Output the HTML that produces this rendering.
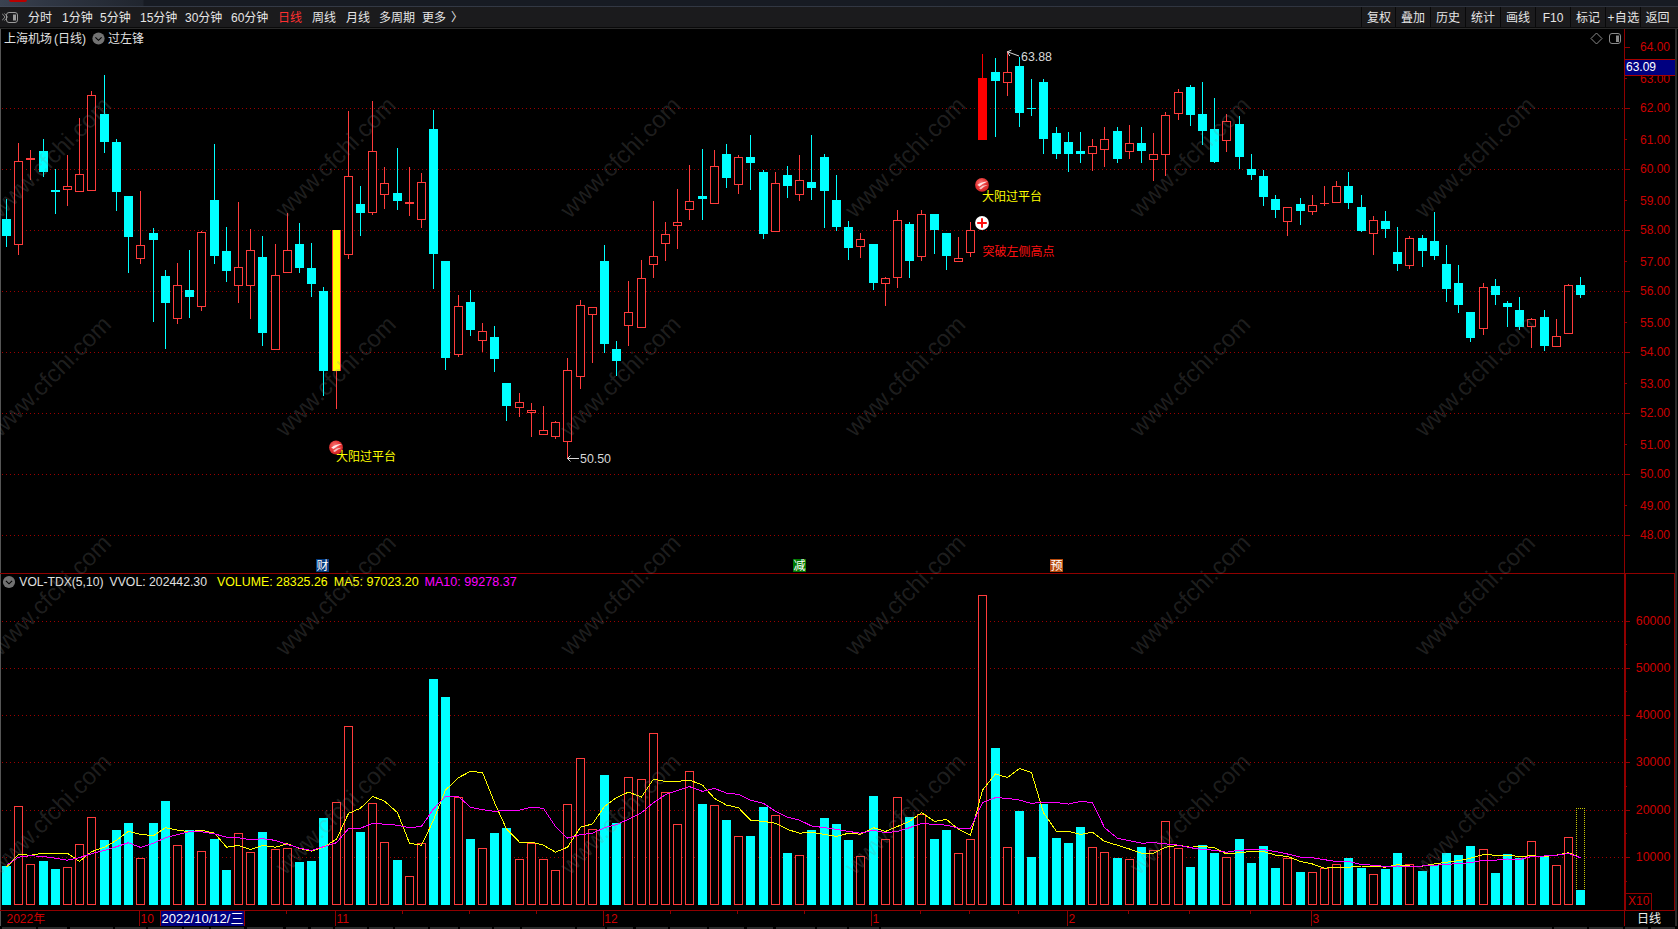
<!DOCTYPE html>
<html lang="zh"><head><meta charset="utf-8"><title>上海机场(日线)</title>
<style>
html,body{margin:0;padding:0;background:#000;}
body{width:1678px;height:929px;overflow:hidden;position:relative;font-family:"Liberation Sans","Noto Sans CJK SC",sans-serif;font-size:12px;color:#e0e0e0;}
.abs{position:absolute;white-space:nowrap;}
#topstrip{left:0;top:0;width:1678px;height:7px;background:linear-gradient(90deg,#3b4351 0,#303744 45px,#20252e 143px,#171b23 144px,#171b23 100%);}
#redtab{left:9px;top:0;width:18px;height:2px;background:#b80000;border-radius:0 0 2px 2px;}
#toolbar{left:0;top:7px;width:1678px;height:20px;background:#1b1b1d;}
#tbl1{left:0;top:27px;width:1678px;height:1px;background:#0a0a0a;}
#tbl2{left:0;top:28px;width:1678px;height:1px;background:#2a2a2a;}
#tsl{left:0;top:6px;width:1678px;height:1px;background:linear-gradient(90deg,#414856 0,#343a46 144px,#2e333e 100%);}
.tb{top:8px;height:20px;line-height:21px;color:#e6e6e6;font-size:12px;}
.btn{top:8px;height:20px;line-height:21px;width:34px;text-align:center;color:#e6e6e6;}
.sep{top:7px;width:1px;height:20px;background:#09090a;}
svg{position:absolute;left:0;top:0;}
.lbl{font-size:12px;line-height:14px;}
</style></head><body>
<div id="topstrip" class="abs"></div><div id="redtab" class="abs"></div>
<div id="tsl" class="abs"></div><div id="toolbar" class="abs"></div><div id="tbl1" class="abs"></div><div id="tbl2" class="abs"></div><div class="abs sep" style="left:1361px"></div><div class="abs sep" style="left:1395px"></div><div class="abs sep" style="left:1430px"></div><div class="abs sep" style="left:1465px"></div><div class="abs sep" style="left:1500px"></div><div class="abs sep" style="left:1535px"></div><div class="abs sep" style="left:1570px"></div><div class="abs sep" style="left:1605px"></div><div class="abs sep" style="left:1640px"></div>
<svg class="abs" style="left:2px;top:10px" width="18" height="14" viewBox="0 0 18 14"><path d="M0 3.5 L3 7 L0 10.5 M2.5 3.5 L5.5 7 L2.5 10.5" fill="none" stroke="#8a8a8a" stroke-width="1"/><rect x="4.5" y="2.5" width="11" height="10" rx="2.5" fill="none" stroke="#9a9a9a"/><rect x="11" y="4.5" width="3" height="6" fill="#9a9a9a"/></svg>
<div class="abs tb" style="left:28px">分时</div>
<div class="abs tb" style="left:62px">1分钟</div>
<div class="abs tb" style="left:100px">5分钟</div>
<div class="abs tb" style="left:140px">15分钟</div>
<div class="abs tb" style="left:185px">30分钟</div>
<div class="abs tb" style="left:231px">60分钟</div>
<div class="abs tb" style="left:278px;color:#ff3030">日线</div>
<div class="abs tb" style="left:312px">周线</div>
<div class="abs tb" style="left:346px">月线</div>
<div class="abs tb" style="left:379px">多周期</div>
<div class="abs tb" style="left:422px">更多</div>
<div class="abs tb" style="left:451px">〉</div>
<div class="abs btn" style="left:1362px">复权</div>
<div class="abs btn" style="left:1396px">叠加</div>
<div class="abs btn" style="left:1431px">历史</div>
<div class="abs btn" style="left:1466px">统计</div>
<div class="abs btn" style="left:1501px">画线</div>
<div class="abs btn" style="left:1536px">F10</div>
<div class="abs btn" style="left:1571px">标记</div>
<div class="abs btn" style="left:1606px;width:35px;letter-spacing:0.4px">+自选</div>
<div class="abs btn" style="left:1641px;width:33px">返回</div>
<svg width="1678" height="929" viewBox="0 0 1678 929">
<line x1="2" y1="535.5" x2="1623" y2="535.5" stroke="#9c0000" stroke-width="1" stroke-dasharray="1 3"/>
<line x1="2" y1="474.5" x2="1623" y2="474.5" stroke="#9c0000" stroke-width="1" stroke-dasharray="1 3"/>
<line x1="2" y1="413.5" x2="1623" y2="413.5" stroke="#9c0000" stroke-width="1" stroke-dasharray="1 3"/>
<line x1="2" y1="352.5" x2="1623" y2="352.5" stroke="#9c0000" stroke-width="1" stroke-dasharray="1 3"/>
<line x1="2" y1="291.5" x2="1623" y2="291.5" stroke="#9c0000" stroke-width="1" stroke-dasharray="1 3"/>
<line x1="2" y1="230.5" x2="1623" y2="230.5" stroke="#9c0000" stroke-width="1" stroke-dasharray="1 3"/>
<line x1="2" y1="169.5" x2="1623" y2="169.5" stroke="#9c0000" stroke-width="1" stroke-dasharray="1 3"/>
<line x1="2" y1="108.5" x2="1623" y2="108.5" stroke="#9c0000" stroke-width="1" stroke-dasharray="1 3"/>
<line x1="2" y1="857.5" x2="1623" y2="857.5" stroke="#9c0000" stroke-width="1" stroke-dasharray="1 3"/>
<line x1="2" y1="810.5" x2="1623" y2="810.5" stroke="#9c0000" stroke-width="1" stroke-dasharray="1 3"/>
<line x1="2" y1="762.5" x2="1623" y2="762.5" stroke="#9c0000" stroke-width="1" stroke-dasharray="1 3"/>
<line x1="2" y1="715.5" x2="1623" y2="715.5" stroke="#9c0000" stroke-width="1" stroke-dasharray="1 3"/>
<line x1="2" y1="668.5" x2="1623" y2="668.5" stroke="#9c0000" stroke-width="1" stroke-dasharray="1 3"/>
<line x1="2" y1="621.5" x2="1623" y2="621.5" stroke="#9c0000" stroke-width="1" stroke-dasharray="1 3"/>
<rect x="0" y="29" width="1" height="897" fill="#555555"/>
<rect x="0" y="573" width="1675" height="1" fill="#900000"/>
<rect x="0" y="910" width="1675" height="1" fill="#900000"/>
<rect x="1624" y="29" width="1" height="897" fill="#900000"/>
<rect x="1625" y="573" width="1" height="338" fill="#900000"/>
<rect x="1674" y="573" width="1" height="338" fill="#900000"/>
<rect x="1675" y="28" width="2" height="898" fill="#2a2a2a"/>
<rect x="1625" y="535" width="5" height="1" fill="#900000"/>
<rect x="1625" y="505" width="2" height="1" fill="#900000"/>
<rect x="1625" y="474" width="5" height="1" fill="#900000"/>
<rect x="1625" y="444" width="2" height="1" fill="#900000"/>
<rect x="1625" y="413" width="5" height="1" fill="#900000"/>
<rect x="1625" y="383" width="2" height="1" fill="#900000"/>
<rect x="1625" y="352" width="5" height="1" fill="#900000"/>
<rect x="1625" y="322" width="2" height="1" fill="#900000"/>
<rect x="1625" y="291" width="5" height="1" fill="#900000"/>
<rect x="1625" y="261" width="2" height="1" fill="#900000"/>
<rect x="1625" y="230" width="5" height="1" fill="#900000"/>
<rect x="1625" y="200" width="2" height="1" fill="#900000"/>
<rect x="1625" y="169" width="5" height="1" fill="#900000"/>
<rect x="1625" y="139" width="2" height="1" fill="#900000"/>
<rect x="1625" y="108" width="5" height="1" fill="#900000"/>
<rect x="1625" y="78" width="2" height="1" fill="#900000"/>
<rect x="1625" y="47" width="5" height="1" fill="#900000"/>
<g font-family="Liberation Sans, Arial, sans-serif" font-size="12" fill="#cc0000"><text x="1670" y="539.3" text-anchor="end">48.00</text><text x="1670" y="510.0" text-anchor="end">49.00</text><text x="1670" y="478.3" text-anchor="end">50.00</text><text x="1670" y="449.0" text-anchor="end">51.00</text><text x="1670" y="417.3" text-anchor="end">52.00</text><text x="1670" y="388.0" text-anchor="end">53.00</text><text x="1670" y="356.3" text-anchor="end">54.00</text><text x="1670" y="327.0" text-anchor="end">55.00</text><text x="1670" y="295.3" text-anchor="end">56.00</text><text x="1670" y="266.0" text-anchor="end">57.00</text><text x="1670" y="234.3" text-anchor="end">58.00</text><text x="1670" y="205.0" text-anchor="end">59.00</text><text x="1670" y="173.3" text-anchor="end">60.00</text><text x="1670" y="144.0" text-anchor="end">61.00</text><text x="1670" y="112.3" text-anchor="end">62.00</text><text x="1670" y="83.0" text-anchor="end">63.00</text><text x="1670" y="51.3" text-anchor="end">64.00</text></g>
<rect x="1625" y="59" width="50" height="17" fill="#000080"/><rect x="1625" y="59" width="50" height="1" fill="#a80000"/><rect x="1625" y="75" width="50" height="1" fill="#a80000"/>
<text x="1626" y="71.3" font-family="Liberation Sans, Arial, sans-serif" font-size="12" fill="#ffffff">63.09</text>
<rect x="1625" y="857" width="5" height="1" fill="#900000"/>
<rect x="1625" y="881" width="2" height="1" fill="#900000"/>
<rect x="1625" y="810" width="5" height="1" fill="#900000"/>
<rect x="1625" y="833" width="2" height="1" fill="#900000"/>
<rect x="1625" y="762" width="5" height="1" fill="#900000"/>
<rect x="1625" y="786" width="2" height="1" fill="#900000"/>
<rect x="1625" y="715" width="5" height="1" fill="#900000"/>
<rect x="1625" y="739" width="2" height="1" fill="#900000"/>
<rect x="1625" y="668" width="5" height="1" fill="#900000"/>
<rect x="1625" y="691" width="2" height="1" fill="#900000"/>
<rect x="1625" y="621" width="5" height="1" fill="#900000"/>
<rect x="1625" y="644" width="2" height="1" fill="#900000"/>
<g font-family="Liberation Sans, Arial, sans-serif" font-size="12.4" fill="#cc0000"><text x="1670.3" y="861.3" text-anchor="end">10000</text><text x="1670.3" y="814.3" text-anchor="end">20000</text><text x="1670.3" y="766.3" text-anchor="end">30000</text><text x="1670.3" y="719.3" text-anchor="end">40000</text><text x="1670.3" y="672.3" text-anchor="end">50000</text><text x="1670.3" y="625.3" text-anchor="end">60000</text></g>
<rect x="1625.5" y="893.5" width="26" height="17" fill="none" stroke="#900000"/>
<text x="1628" y="905" font-family="Liberation Sans, Arial, sans-serif" font-size="12" fill="#cc0000">X10</text>
<g shape-rendering="crispEdges"><rect x="6" y="199" width="1" height="48" fill="#00ffff"/><rect x="2" y="219" width="9" height="17" fill="#00ffff"/><rect x="18" y="143" width="1" height="18" fill="#ff3c3c"/><rect x="18" y="245" width="1" height="10" fill="#ff3c3c"/><rect x="14.5" y="161.5" width="8" height="83" fill="#000" stroke="#ff3c3c"/><rect x="30" y="150" width="1" height="8" fill="#ff3c3c"/><rect x="30" y="160" width="1" height="20" fill="#ff3c3c"/><rect x="26.5" y="158.5" width="8" height="1" fill="#000" stroke="#ff3c3c"/><rect x="43" y="139" width="1" height="38" fill="#00ffff"/><rect x="39" y="151" width="9" height="21" fill="#00ffff"/><rect x="55" y="169" width="1" height="45" fill="#00ffff"/><rect x="51" y="190" width="9" height="2" fill="#00ffff"/><rect x="67" y="155" width="1" height="31" fill="#ff3c3c"/><rect x="67" y="190" width="1" height="16" fill="#ff3c3c"/><rect x="63.5" y="186.5" width="8" height="3" fill="#000" stroke="#ff3c3c"/><rect x="79" y="118" width="1" height="56" fill="#ff3c3c"/><rect x="75.5" y="174.5" width="8" height="17" fill="#000" stroke="#ff3c3c"/><rect x="91" y="91" width="1" height="4" fill="#ff3c3c"/><rect x="87.5" y="95.5" width="8" height="95" fill="#000" stroke="#ff3c3c"/><rect x="104" y="75" width="1" height="78" fill="#00ffff"/><rect x="100" y="114" width="9" height="28" fill="#00ffff"/><rect x="116" y="139" width="1" height="72" fill="#00ffff"/><rect x="112" y="142" width="9" height="50" fill="#00ffff"/><rect x="128" y="196" width="1" height="77" fill="#00ffff"/><rect x="124" y="196" width="9" height="41" fill="#00ffff"/><rect x="140" y="191" width="1" height="54" fill="#ff3c3c"/><rect x="140" y="259" width="1" height="5" fill="#ff3c3c"/><rect x="136.5" y="245.5" width="8" height="13" fill="#000" stroke="#ff3c3c"/><rect x="153" y="228" width="1" height="94" fill="#00ffff"/><rect x="149" y="233" width="9" height="7" fill="#00ffff"/><rect x="165" y="270" width="1" height="79" fill="#00ffff"/><rect x="161" y="276" width="9" height="27" fill="#00ffff"/><rect x="177" y="263" width="1" height="22" fill="#ff3c3c"/><rect x="177" y="319" width="1" height="5" fill="#ff3c3c"/><rect x="173.5" y="285.5" width="8" height="33" fill="#000" stroke="#ff3c3c"/><rect x="189" y="250" width="1" height="68" fill="#00ffff"/><rect x="185" y="290" width="9" height="7" fill="#00ffff"/><rect x="201" y="231" width="1" height="1" fill="#ff3c3c"/><rect x="201" y="307" width="1" height="4" fill="#ff3c3c"/><rect x="197.5" y="232.5" width="8" height="74" fill="#000" stroke="#ff3c3c"/><rect x="214" y="144" width="1" height="120" fill="#00ffff"/><rect x="210" y="200" width="9" height="56" fill="#00ffff"/><rect x="226" y="227" width="1" height="55" fill="#00ffff"/><rect x="222" y="251" width="9" height="20" fill="#00ffff"/><rect x="238" y="202" width="1" height="65" fill="#ff3c3c"/><rect x="238" y="286" width="1" height="17" fill="#ff3c3c"/><rect x="234.5" y="267.5" width="8" height="18" fill="#000" stroke="#ff3c3c"/><rect x="250" y="229" width="1" height="21" fill="#ff3c3c"/><rect x="250" y="286" width="1" height="33" fill="#ff3c3c"/><rect x="246.5" y="250.5" width="8" height="35" fill="#000" stroke="#ff3c3c"/><rect x="262" y="236" width="1" height="110" fill="#00ffff"/><rect x="258" y="257" width="9" height="76" fill="#00ffff"/><rect x="275" y="244" width="1" height="31" fill="#ff3c3c"/><rect x="271.5" y="275.5" width="8" height="74" fill="#000" stroke="#ff3c3c"/><rect x="287" y="213" width="1" height="37" fill="#ff3c3c"/><rect x="283.5" y="250.5" width="8" height="22" fill="#000" stroke="#ff3c3c"/><rect x="299" y="223" width="1" height="50" fill="#00ffff"/><rect x="295" y="244" width="9" height="24" fill="#00ffff"/><rect x="311" y="243" width="1" height="54" fill="#00ffff"/><rect x="307" y="268" width="9" height="16" fill="#00ffff"/><rect x="323" y="287" width="1" height="109" fill="#00ffff"/><rect x="319" y="291" width="9" height="80" fill="#00ffff"/><rect x="336" y="371" width="1" height="38" fill="#ff3c3c"/><rect x="332" y="230" width="9" height="141" fill="#ff3c3c"/><rect x="333" y="230" width="7" height="141" fill="#ffff00"/><rect x="348" y="111" width="1" height="65" fill="#ff3c3c"/><rect x="348" y="255" width="1" height="4" fill="#ff3c3c"/><rect x="344.5" y="176.5" width="8" height="78" fill="#000" stroke="#ff3c3c"/><rect x="360" y="186" width="1" height="50" fill="#00ffff"/><rect x="356" y="204" width="9" height="9" fill="#00ffff"/><rect x="372" y="101" width="1" height="50" fill="#ff3c3c"/><rect x="372" y="213" width="1" height="2" fill="#ff3c3c"/><rect x="368.5" y="151.5" width="8" height="61" fill="#000" stroke="#ff3c3c"/><rect x="384" y="167" width="1" height="16" fill="#ff3c3c"/><rect x="384" y="195" width="1" height="14" fill="#ff3c3c"/><rect x="380.5" y="183.5" width="8" height="11" fill="#000" stroke="#ff3c3c"/><rect x="397" y="148" width="1" height="62" fill="#00ffff"/><rect x="393" y="193" width="9" height="8" fill="#00ffff"/><rect x="409" y="167" width="1" height="35" fill="#ff3c3c"/><rect x="409" y="204" width="1" height="12" fill="#ff3c3c"/><rect x="405.5" y="202.5" width="8" height="1" fill="#000" stroke="#ff3c3c"/><rect x="421" y="173" width="1" height="9" fill="#ff3c3c"/><rect x="421" y="220" width="1" height="8" fill="#ff3c3c"/><rect x="417.5" y="182.5" width="8" height="37" fill="#000" stroke="#ff3c3c"/><rect x="433" y="110" width="1" height="179" fill="#00ffff"/><rect x="429" y="129" width="9" height="125" fill="#00ffff"/><rect x="445" y="261" width="1" height="109" fill="#00ffff"/><rect x="441" y="261" width="9" height="97" fill="#00ffff"/><rect x="458" y="295" width="1" height="11" fill="#ff3c3c"/><rect x="458" y="355" width="1" height="2" fill="#ff3c3c"/><rect x="454.5" y="306.5" width="8" height="48" fill="#000" stroke="#ff3c3c"/><rect x="470" y="290" width="1" height="46" fill="#00ffff"/><rect x="466" y="302" width="9" height="28" fill="#00ffff"/><rect x="482" y="323" width="1" height="8" fill="#ff3c3c"/><rect x="482" y="341" width="1" height="11" fill="#ff3c3c"/><rect x="478.5" y="331.5" width="8" height="9" fill="#000" stroke="#ff3c3c"/><rect x="494" y="326" width="1" height="46" fill="#00ffff"/><rect x="490" y="337" width="9" height="22" fill="#00ffff"/><rect x="506" y="383" width="1" height="38" fill="#00ffff"/><rect x="502" y="383" width="9" height="23" fill="#00ffff"/><rect x="519" y="393" width="1" height="9" fill="#ff3c3c"/><rect x="519" y="408" width="1" height="9" fill="#ff3c3c"/><rect x="515.5" y="402.5" width="8" height="5" fill="#000" stroke="#ff3c3c"/><rect x="531" y="403" width="1" height="7" fill="#ff3c3c"/><rect x="531" y="413" width="1" height="24" fill="#ff3c3c"/><rect x="527.5" y="410.5" width="8" height="2" fill="#000" stroke="#ff3c3c"/><rect x="543" y="406" width="1" height="24" fill="#ff3c3c"/><rect x="539.5" y="430.5" width="8" height="4" fill="#000" stroke="#ff3c3c"/><rect x="555" y="421" width="1" height="1" fill="#ff3c3c"/><rect x="555" y="437" width="1" height="2" fill="#ff3c3c"/><rect x="551.5" y="422.5" width="8" height="14" fill="#000" stroke="#ff3c3c"/><rect x="567" y="358" width="1" height="12" fill="#ff3c3c"/><rect x="567" y="442" width="1" height="17" fill="#ff3c3c"/><rect x="563.5" y="370.5" width="8" height="71" fill="#000" stroke="#ff3c3c"/><rect x="580" y="300" width="1" height="5" fill="#ff3c3c"/><rect x="580" y="377" width="1" height="12" fill="#ff3c3c"/><rect x="576.5" y="305.5" width="8" height="71" fill="#000" stroke="#ff3c3c"/><rect x="592" y="315" width="1" height="48" fill="#ff3c3c"/><rect x="588.5" y="307.5" width="8" height="7" fill="#000" stroke="#ff3c3c"/><rect x="604" y="245" width="1" height="108" fill="#00ffff"/><rect x="600" y="261" width="9" height="83" fill="#00ffff"/><rect x="616" y="341" width="1" height="35" fill="#00ffff"/><rect x="612" y="349" width="9" height="12" fill="#00ffff"/><rect x="628" y="281" width="1" height="31" fill="#ff3c3c"/><rect x="628" y="326" width="1" height="20" fill="#ff3c3c"/><rect x="624.5" y="312.5" width="8" height="13" fill="#000" stroke="#ff3c3c"/><rect x="641" y="260" width="1" height="18" fill="#ff3c3c"/><rect x="637.5" y="278.5" width="8" height="49" fill="#000" stroke="#ff3c3c"/><rect x="653" y="201" width="1" height="55" fill="#ff3c3c"/><rect x="653" y="265" width="1" height="13" fill="#ff3c3c"/><rect x="649.5" y="256.5" width="8" height="8" fill="#000" stroke="#ff3c3c"/><rect x="665" y="222" width="1" height="12" fill="#ff3c3c"/><rect x="665" y="244" width="1" height="17" fill="#ff3c3c"/><rect x="661.5" y="234.5" width="8" height="9" fill="#000" stroke="#ff3c3c"/><rect x="677" y="189" width="1" height="33" fill="#ff3c3c"/><rect x="677" y="226" width="1" height="23" fill="#ff3c3c"/><rect x="673.5" y="222.5" width="8" height="3" fill="#000" stroke="#ff3c3c"/><rect x="689" y="165" width="1" height="36" fill="#ff3c3c"/><rect x="689" y="210" width="1" height="10" fill="#ff3c3c"/><rect x="685.5" y="201.5" width="8" height="8" fill="#000" stroke="#ff3c3c"/><rect x="702" y="149" width="1" height="71" fill="#00ffff"/><rect x="698" y="196" width="9" height="3" fill="#00ffff"/><rect x="714" y="150" width="1" height="16" fill="#ff3c3c"/><rect x="710.5" y="166.5" width="8" height="37" fill="#000" stroke="#ff3c3c"/><rect x="726" y="144" width="1" height="44" fill="#00ffff"/><rect x="722" y="154" width="9" height="24" fill="#00ffff"/><rect x="738" y="155" width="1" height="2" fill="#ff3c3c"/><rect x="738" y="185" width="1" height="9" fill="#ff3c3c"/><rect x="734.5" y="157.5" width="8" height="27" fill="#000" stroke="#ff3c3c"/><rect x="750" y="135" width="1" height="55" fill="#00ffff"/><rect x="746" y="157" width="9" height="6" fill="#00ffff"/><rect x="763" y="170" width="1" height="69" fill="#00ffff"/><rect x="759" y="172" width="9" height="62" fill="#00ffff"/><rect x="775" y="172" width="1" height="11" fill="#ff3c3c"/><rect x="771.5" y="183.5" width="8" height="48" fill="#000" stroke="#ff3c3c"/><rect x="787" y="166" width="1" height="32" fill="#00ffff"/><rect x="783" y="175" width="9" height="11" fill="#00ffff"/><rect x="799" y="155" width="1" height="25" fill="#ff3c3c"/><rect x="799" y="195" width="1" height="6" fill="#ff3c3c"/><rect x="795.5" y="180.5" width="8" height="14" fill="#000" stroke="#ff3c3c"/><rect x="811" y="135" width="1" height="65" fill="#00ffff"/><rect x="807" y="182" width="9" height="6" fill="#00ffff"/><rect x="824" y="154" width="1" height="74" fill="#00ffff"/><rect x="820" y="157" width="9" height="34" fill="#00ffff"/><rect x="836" y="175" width="1" height="56" fill="#00ffff"/><rect x="832" y="200" width="9" height="27" fill="#00ffff"/><rect x="848" y="221" width="1" height="39" fill="#00ffff"/><rect x="844" y="227" width="9" height="21" fill="#00ffff"/><rect x="860" y="233" width="1" height="6" fill="#ff3c3c"/><rect x="860" y="247" width="1" height="11" fill="#ff3c3c"/><rect x="856.5" y="239.5" width="8" height="7" fill="#000" stroke="#ff3c3c"/><rect x="873" y="244" width="1" height="46" fill="#00ffff"/><rect x="869" y="244" width="9" height="39" fill="#00ffff"/><rect x="885" y="277" width="1" height="1" fill="#ff3c3c"/><rect x="885" y="284" width="1" height="22" fill="#ff3c3c"/><rect x="881.5" y="278.5" width="8" height="5" fill="#000" stroke="#ff3c3c"/><rect x="897" y="210" width="1" height="10" fill="#ff3c3c"/><rect x="897" y="278" width="1" height="10" fill="#ff3c3c"/><rect x="893.5" y="220.5" width="8" height="57" fill="#000" stroke="#ff3c3c"/><rect x="909" y="222" width="1" height="56" fill="#00ffff"/><rect x="905" y="224" width="9" height="37" fill="#00ffff"/><rect x="921" y="210" width="1" height="4" fill="#ff3c3c"/><rect x="921" y="257" width="1" height="4" fill="#ff3c3c"/><rect x="917.5" y="214.5" width="8" height="42" fill="#000" stroke="#ff3c3c"/><rect x="934" y="214" width="1" height="40" fill="#00ffff"/><rect x="930" y="214" width="9" height="16" fill="#00ffff"/><rect x="946" y="233" width="1" height="37" fill="#00ffff"/><rect x="942" y="233" width="9" height="23" fill="#00ffff"/><rect x="958" y="237" width="1" height="21" fill="#ff3c3c"/><rect x="954.5" y="258.5" width="8" height="3" fill="#000" stroke="#ff3c3c"/><rect x="970" y="222" width="1" height="8" fill="#ff3c3c"/><rect x="970" y="253" width="1" height="4" fill="#ff3c3c"/><rect x="966.5" y="230.5" width="8" height="22" fill="#000" stroke="#ff3c3c"/><rect x="982" y="54" width="1" height="86" fill="#ff0000"/><rect x="978" y="78" width="9" height="62" fill="#ff0000"/><rect x="995" y="58" width="1" height="79" fill="#00ffff"/><rect x="991" y="72" width="9" height="9" fill="#00ffff"/><rect x="1007" y="51" width="1" height="21" fill="#ff3c3c"/><rect x="1007" y="83" width="1" height="13" fill="#ff3c3c"/><rect x="1003.5" y="72.5" width="8" height="10" fill="#000" stroke="#ff3c3c"/><rect x="1019" y="57" width="1" height="70" fill="#00ffff"/><rect x="1015" y="66" width="9" height="47" fill="#00ffff"/><rect x="1031" y="79" width="1" height="37" fill="#00ffff"/><rect x="1027" y="108" width="9" height="1" fill="#00ffff"/><rect x="1043" y="79" width="1" height="75" fill="#00ffff"/><rect x="1039" y="82" width="9" height="57" fill="#00ffff"/><rect x="1056" y="127" width="1" height="32" fill="#00ffff"/><rect x="1052" y="133" width="9" height="21" fill="#00ffff"/><rect x="1068" y="132" width="1" height="40" fill="#00ffff"/><rect x="1064" y="142" width="9" height="12" fill="#00ffff"/><rect x="1080" y="132" width="1" height="31" fill="#00ffff"/><rect x="1076" y="151" width="9" height="3" fill="#00ffff"/><rect x="1092" y="139" width="1" height="7" fill="#ff3c3c"/><rect x="1092" y="154" width="1" height="17" fill="#ff3c3c"/><rect x="1088.5" y="146.5" width="8" height="7" fill="#000" stroke="#ff3c3c"/><rect x="1104" y="127" width="1" height="12" fill="#ff3c3c"/><rect x="1104" y="150" width="1" height="17" fill="#ff3c3c"/><rect x="1100.5" y="139.5" width="8" height="10" fill="#000" stroke="#ff3c3c"/><rect x="1117" y="127" width="1" height="36" fill="#00ffff"/><rect x="1113" y="131" width="9" height="28" fill="#00ffff"/><rect x="1129" y="125" width="1" height="18" fill="#ff3c3c"/><rect x="1129" y="152" width="1" height="7" fill="#ff3c3c"/><rect x="1125.5" y="143.5" width="8" height="8" fill="#000" stroke="#ff3c3c"/><rect x="1141" y="127" width="1" height="36" fill="#00ffff"/><rect x="1137" y="143" width="9" height="8" fill="#00ffff"/><rect x="1153" y="133" width="1" height="21" fill="#ff3c3c"/><rect x="1153" y="160" width="1" height="21" fill="#ff3c3c"/><rect x="1149.5" y="154.5" width="8" height="5" fill="#000" stroke="#ff3c3c"/><rect x="1165" y="112" width="1" height="3" fill="#ff3c3c"/><rect x="1165" y="155" width="1" height="21" fill="#ff3c3c"/><rect x="1161.5" y="115.5" width="8" height="39" fill="#000" stroke="#ff3c3c"/><rect x="1178" y="89" width="1" height="3" fill="#ff3c3c"/><rect x="1178" y="114" width="1" height="6" fill="#ff3c3c"/><rect x="1174.5" y="92.5" width="8" height="21" fill="#000" stroke="#ff3c3c"/><rect x="1190" y="85" width="1" height="41" fill="#00ffff"/><rect x="1186" y="87" width="9" height="28" fill="#00ffff"/><rect x="1202" y="82" width="1" height="63" fill="#00ffff"/><rect x="1198" y="114" width="9" height="17" fill="#00ffff"/><rect x="1214" y="98" width="1" height="65" fill="#00ffff"/><rect x="1210" y="129" width="9" height="33" fill="#00ffff"/><rect x="1226" y="114" width="1" height="7" fill="#ff3c3c"/><rect x="1226" y="141" width="1" height="11" fill="#ff3c3c"/><rect x="1222.5" y="121.5" width="8" height="19" fill="#000" stroke="#ff3c3c"/><rect x="1239" y="116" width="1" height="53" fill="#00ffff"/><rect x="1235" y="124" width="9" height="33" fill="#00ffff"/><rect x="1251" y="154" width="1" height="26" fill="#00ffff"/><rect x="1247" y="169" width="9" height="6" fill="#00ffff"/><rect x="1263" y="170" width="1" height="36" fill="#00ffff"/><rect x="1259" y="176" width="9" height="21" fill="#00ffff"/><rect x="1275" y="195" width="1" height="23" fill="#00ffff"/><rect x="1271" y="199" width="9" height="11" fill="#00ffff"/><rect x="1287" y="222" width="1" height="14" fill="#ff3c3c"/><rect x="1283.5" y="207.5" width="8" height="14" fill="#000" stroke="#ff3c3c"/><rect x="1300" y="198" width="1" height="27" fill="#00ffff"/><rect x="1296" y="204" width="9" height="7" fill="#00ffff"/><rect x="1312" y="195" width="1" height="10" fill="#ff3c3c"/><rect x="1312" y="212" width="1" height="3" fill="#ff3c3c"/><rect x="1308.5" y="205.5" width="8" height="6" fill="#000" stroke="#ff3c3c"/><rect x="1324" y="186" width="1" height="17" fill="#ff3c3c"/><rect x="1324" y="204" width="1" height="2" fill="#ff3c3c"/><rect x="1320" y="203" width="9" height="1" fill="#ff3c3c"/><rect x="1336" y="181" width="1" height="5" fill="#ff3c3c"/><rect x="1332.5" y="186.5" width="8" height="16" fill="#000" stroke="#ff3c3c"/><rect x="1348" y="172" width="1" height="37" fill="#00ffff"/><rect x="1344" y="186" width="9" height="17" fill="#00ffff"/><rect x="1361" y="195" width="1" height="37" fill="#00ffff"/><rect x="1357" y="207" width="9" height="24" fill="#00ffff"/><rect x="1373" y="216" width="1" height="4" fill="#ff3c3c"/><rect x="1373" y="234" width="1" height="21" fill="#ff3c3c"/><rect x="1369.5" y="220.5" width="8" height="13" fill="#000" stroke="#ff3c3c"/><rect x="1385" y="211" width="1" height="27" fill="#00ffff"/><rect x="1381" y="221" width="9" height="8" fill="#00ffff"/><rect x="1397" y="227" width="1" height="44" fill="#00ffff"/><rect x="1393" y="252" width="9" height="12" fill="#00ffff"/><rect x="1409" y="236" width="1" height="2" fill="#ff3c3c"/><rect x="1409" y="266" width="1" height="3" fill="#ff3c3c"/><rect x="1405.5" y="238.5" width="8" height="27" fill="#000" stroke="#ff3c3c"/><rect x="1422" y="235" width="1" height="32" fill="#00ffff"/><rect x="1418" y="238" width="9" height="13" fill="#00ffff"/><rect x="1434" y="212" width="1" height="48" fill="#00ffff"/><rect x="1430" y="241" width="9" height="15" fill="#00ffff"/><rect x="1446" y="245" width="1" height="57" fill="#00ffff"/><rect x="1442" y="264" width="9" height="25" fill="#00ffff"/><rect x="1458" y="265" width="1" height="48" fill="#00ffff"/><rect x="1454" y="283" width="9" height="22" fill="#00ffff"/><rect x="1470" y="312" width="1" height="30" fill="#00ffff"/><rect x="1466" y="312" width="9" height="26" fill="#00ffff"/><rect x="1483" y="283" width="1" height="4" fill="#ff3c3c"/><rect x="1483" y="329" width="1" height="6" fill="#ff3c3c"/><rect x="1479.5" y="287.5" width="8" height="41" fill="#000" stroke="#ff3c3c"/><rect x="1495" y="279" width="1" height="26" fill="#00ffff"/><rect x="1491" y="286" width="9" height="9" fill="#00ffff"/><rect x="1507" y="301" width="1" height="26" fill="#00ffff"/><rect x="1503" y="303" width="9" height="4" fill="#00ffff"/><rect x="1519" y="297" width="1" height="33" fill="#00ffff"/><rect x="1515" y="310" width="9" height="17" fill="#00ffff"/><rect x="1531" y="318" width="1" height="1" fill="#ff3c3c"/><rect x="1531" y="327" width="1" height="21" fill="#ff3c3c"/><rect x="1527.5" y="319.5" width="8" height="7" fill="#000" stroke="#ff3c3c"/><rect x="1544" y="310" width="1" height="41" fill="#00ffff"/><rect x="1540" y="317" width="9" height="29" fill="#00ffff"/><rect x="1556" y="319" width="1" height="17" fill="#ff3c3c"/><rect x="1552.5" y="336.5" width="8" height="10" fill="#000" stroke="#ff3c3c"/><rect x="1568" y="284" width="1" height="1" fill="#ff3c3c"/><rect x="1564.5" y="285.5" width="8" height="48" fill="#000" stroke="#ff3c3c"/><rect x="1580" y="277" width="1" height="21" fill="#00ffff"/><rect x="1576" y="285" width="9" height="10" fill="#00ffff"/></g>
<g shape-rendering="crispEdges"><rect x="2" y="866" width="9" height="39" fill="#00ffff"/><rect x="14.5" y="806.5" width="8" height="98" fill="#000" stroke="#ff3c3c"/><rect x="26.5" y="864.5" width="8" height="40" fill="#000" stroke="#ff3c3c"/><rect x="39" y="861" width="9" height="44" fill="#00ffff"/><rect x="51" y="869" width="9" height="36" fill="#00ffff"/><rect x="63.5" y="867.5" width="8" height="37" fill="#000" stroke="#ff3c3c"/><rect x="75.5" y="844.5" width="8" height="60" fill="#000" stroke="#ff3c3c"/><rect x="87.5" y="817.5" width="8" height="87" fill="#000" stroke="#ff3c3c"/><rect x="100" y="840" width="9" height="65" fill="#00ffff"/><rect x="112" y="830" width="9" height="75" fill="#00ffff"/><rect x="124" y="823" width="9" height="82" fill="#00ffff"/><rect x="136.5" y="858.5" width="8" height="46" fill="#000" stroke="#ff3c3c"/><rect x="149" y="823" width="9" height="82" fill="#00ffff"/><rect x="161" y="801" width="9" height="104" fill="#00ffff"/><rect x="173.5" y="845.5" width="8" height="59" fill="#000" stroke="#ff3c3c"/><rect x="185" y="830" width="9" height="75" fill="#00ffff"/><rect x="197.5" y="851.5" width="8" height="53" fill="#000" stroke="#ff3c3c"/><rect x="210" y="839" width="9" height="66" fill="#00ffff"/><rect x="222" y="870" width="9" height="35" fill="#00ffff"/><rect x="234.5" y="833.5" width="8" height="71" fill="#000" stroke="#ff3c3c"/><rect x="246.5" y="852.5" width="8" height="52" fill="#000" stroke="#ff3c3c"/><rect x="258" y="832" width="9" height="73" fill="#00ffff"/><rect x="271.5" y="849.5" width="8" height="55" fill="#000" stroke="#ff3c3c"/><rect x="283.5" y="848.5" width="8" height="56" fill="#000" stroke="#ff3c3c"/><rect x="295" y="862" width="9" height="43" fill="#00ffff"/><rect x="307" y="861" width="9" height="44" fill="#00ffff"/><rect x="319" y="818" width="9" height="87" fill="#00ffff"/><rect x="332.5" y="802.5" width="8" height="102" fill="#000" stroke="#ff3c3c"/><rect x="344.5" y="726.5" width="8" height="178" fill="#000" stroke="#ff3c3c"/><rect x="356" y="832" width="9" height="73" fill="#00ffff"/><rect x="368.5" y="803.5" width="8" height="101" fill="#000" stroke="#ff3c3c"/><rect x="380.5" y="842.5" width="8" height="62" fill="#000" stroke="#ff3c3c"/><rect x="393" y="860" width="9" height="45" fill="#00ffff"/><rect x="405.5" y="876.5" width="8" height="28" fill="#000" stroke="#ff3c3c"/><rect x="417.5" y="843.5" width="8" height="61" fill="#000" stroke="#ff3c3c"/><rect x="429" y="679" width="9" height="226" fill="#00ffff"/><rect x="441" y="697" width="9" height="208" fill="#00ffff"/><rect x="454.5" y="797.5" width="8" height="107" fill="#000" stroke="#ff3c3c"/><rect x="466" y="839" width="9" height="66" fill="#00ffff"/><rect x="478.5" y="848.5" width="8" height="56" fill="#000" stroke="#ff3c3c"/><rect x="490" y="833" width="9" height="72" fill="#00ffff"/><rect x="502" y="828" width="9" height="77" fill="#00ffff"/><rect x="515.5" y="859.5" width="8" height="45" fill="#000" stroke="#ff3c3c"/><rect x="527.5" y="843.5" width="8" height="61" fill="#000" stroke="#ff3c3c"/><rect x="539.5" y="859.5" width="8" height="45" fill="#000" stroke="#ff3c3c"/><rect x="551.5" y="870.5" width="8" height="34" fill="#000" stroke="#ff3c3c"/><rect x="563.5" y="804.5" width="8" height="100" fill="#000" stroke="#ff3c3c"/><rect x="576.5" y="758.5" width="8" height="146" fill="#000" stroke="#ff3c3c"/><rect x="588.5" y="829.5" width="8" height="75" fill="#000" stroke="#ff3c3c"/><rect x="600" y="775" width="9" height="130" fill="#00ffff"/><rect x="612" y="823" width="9" height="82" fill="#00ffff"/><rect x="624.5" y="777.5" width="8" height="127" fill="#000" stroke="#ff3c3c"/><rect x="637.5" y="779.5" width="8" height="125" fill="#000" stroke="#ff3c3c"/><rect x="649.5" y="733.5" width="8" height="171" fill="#000" stroke="#ff3c3c"/><rect x="661.5" y="792.5" width="8" height="112" fill="#000" stroke="#ff3c3c"/><rect x="673.5" y="824.5" width="8" height="80" fill="#000" stroke="#ff3c3c"/><rect x="685.5" y="771.5" width="8" height="133" fill="#000" stroke="#ff3c3c"/><rect x="698" y="804" width="9" height="101" fill="#00ffff"/><rect x="710.5" y="805.5" width="8" height="99" fill="#000" stroke="#ff3c3c"/><rect x="722" y="820" width="9" height="85" fill="#00ffff"/><rect x="734.5" y="836.5" width="8" height="68" fill="#000" stroke="#ff3c3c"/><rect x="746" y="836" width="9" height="69" fill="#00ffff"/><rect x="759" y="807" width="9" height="98" fill="#00ffff"/><rect x="771.5" y="815.5" width="8" height="89" fill="#000" stroke="#ff3c3c"/><rect x="783" y="853" width="9" height="52" fill="#00ffff"/><rect x="795.5" y="855.5" width="8" height="49" fill="#000" stroke="#ff3c3c"/><rect x="807" y="830" width="9" height="75" fill="#00ffff"/><rect x="820" y="818" width="9" height="87" fill="#00ffff"/><rect x="832" y="824" width="9" height="81" fill="#00ffff"/><rect x="844" y="840" width="9" height="65" fill="#00ffff"/><rect x="856.5" y="856.5" width="8" height="48" fill="#000" stroke="#ff3c3c"/><rect x="869" y="796" width="9" height="109" fill="#00ffff"/><rect x="881.5" y="839.5" width="8" height="65" fill="#000" stroke="#ff3c3c"/><rect x="893.5" y="797.5" width="8" height="107" fill="#000" stroke="#ff3c3c"/><rect x="905" y="817" width="9" height="88" fill="#00ffff"/><rect x="917.5" y="814.5" width="8" height="90" fill="#000" stroke="#ff3c3c"/><rect x="930" y="839" width="9" height="66" fill="#00ffff"/><rect x="942" y="830" width="9" height="75" fill="#00ffff"/><rect x="954.5" y="853.5" width="8" height="51" fill="#000" stroke="#ff3c3c"/><rect x="966.5" y="839.5" width="8" height="65" fill="#000" stroke="#ff3c3c"/><rect x="978.5" y="595.5" width="8" height="309" fill="#000" stroke="#ff3c3c"/><rect x="991" y="748" width="9" height="157" fill="#00ffff"/><rect x="1003.5" y="847.5" width="8" height="57" fill="#000" stroke="#ff3c3c"/><rect x="1015" y="811" width="9" height="94" fill="#00ffff"/><rect x="1027" y="857" width="9" height="48" fill="#00ffff"/><rect x="1039" y="804" width="9" height="101" fill="#00ffff"/><rect x="1052" y="838" width="9" height="67" fill="#00ffff"/><rect x="1064" y="843" width="9" height="62" fill="#00ffff"/><rect x="1076" y="827" width="9" height="78" fill="#00ffff"/><rect x="1088.5" y="847.5" width="8" height="57" fill="#000" stroke="#ff3c3c"/><rect x="1100.5" y="852.5" width="8" height="52" fill="#000" stroke="#ff3c3c"/><rect x="1113" y="858" width="9" height="47" fill="#00ffff"/><rect x="1125.5" y="859.5" width="8" height="45" fill="#000" stroke="#ff3c3c"/><rect x="1137" y="847" width="9" height="58" fill="#00ffff"/><rect x="1149.5" y="850.5" width="8" height="54" fill="#000" stroke="#ff3c3c"/><rect x="1161.5" y="821.5" width="8" height="83" fill="#000" stroke="#ff3c3c"/><rect x="1174.5" y="848.5" width="8" height="56" fill="#000" stroke="#ff3c3c"/><rect x="1186" y="867" width="9" height="38" fill="#00ffff"/><rect x="1198" y="845" width="9" height="60" fill="#00ffff"/><rect x="1210" y="853" width="9" height="52" fill="#00ffff"/><rect x="1222.5" y="857.5" width="8" height="47" fill="#000" stroke="#ff3c3c"/><rect x="1235" y="839" width="9" height="66" fill="#00ffff"/><rect x="1247" y="863" width="9" height="42" fill="#00ffff"/><rect x="1259" y="846" width="9" height="59" fill="#00ffff"/><rect x="1271" y="868" width="9" height="37" fill="#00ffff"/><rect x="1283.5" y="858.5" width="8" height="46" fill="#000" stroke="#ff3c3c"/><rect x="1296" y="872" width="9" height="33" fill="#00ffff"/><rect x="1308.5" y="872.5" width="8" height="32" fill="#000" stroke="#ff3c3c"/><rect x="1320.5" y="868.5" width="8" height="36" fill="#000" stroke="#ff3c3c"/><rect x="1332.5" y="864.5" width="8" height="40" fill="#000" stroke="#ff3c3c"/><rect x="1344" y="858" width="9" height="47" fill="#00ffff"/><rect x="1357" y="868" width="9" height="37" fill="#00ffff"/><rect x="1369.5" y="874.5" width="8" height="30" fill="#000" stroke="#ff3c3c"/><rect x="1381" y="869" width="9" height="36" fill="#00ffff"/><rect x="1393" y="853" width="9" height="52" fill="#00ffff"/><rect x="1405.5" y="864.5" width="8" height="40" fill="#000" stroke="#ff3c3c"/><rect x="1418" y="871" width="9" height="34" fill="#00ffff"/><rect x="1430" y="865" width="9" height="40" fill="#00ffff"/><rect x="1442" y="853" width="9" height="52" fill="#00ffff"/><rect x="1454" y="855" width="9" height="50" fill="#00ffff"/><rect x="1466" y="846" width="9" height="59" fill="#00ffff"/><rect x="1479.5" y="849.5" width="8" height="55" fill="#000" stroke="#ff3c3c"/><rect x="1491" y="873" width="9" height="32" fill="#00ffff"/><rect x="1503" y="854" width="9" height="51" fill="#00ffff"/><rect x="1515" y="858" width="9" height="47" fill="#00ffff"/><rect x="1527.5" y="841.5" width="8" height="63" fill="#000" stroke="#ff3c3c"/><rect x="1540" y="857" width="9" height="48" fill="#00ffff"/><rect x="1552.5" y="865.5" width="8" height="39" fill="#000" stroke="#ff3c3c"/><rect x="1564.5" y="837.5" width="8" height="67" fill="#000" stroke="#ff3c3c"/><rect x="1576" y="890" width="9" height="15" fill="#00ffff"/><rect x="1576" y="808" width="9" height="82" fill="#000"/><line x1="1576.5" y1="808" x2="1576.5" y2="890" stroke="#c8c800" stroke-dasharray="1 1"/><line x1="1584.5" y1="808" x2="1584.5" y2="890" stroke="#c8c800" stroke-dasharray="1 1"/><line x1="1576" y1="808.5" x2="1585" y2="808.5" stroke="#c8c800" stroke-dasharray="1 1"/></g>
<polyline points="6.5,867.2 18.5,854.5 30.5,855.2 43.5,853.2 55.5,853.2 67.5,853.2 79.5,861.5 91.5,851.7 104.5,847.2 116.5,840.2 128.5,831.4 140.5,834.4 153.5,835.7 165.5,827.7 177.5,830.2 189.5,831.7 201.5,830.2 214.5,833.2 226.5,847.2 238.5,845.4 250.5,849.5 262.5,845.4 275.5,847.2 287.5,843.7 299.5,848.5 311.5,851.2 323.5,847.2 336.5,839.2 348.5,813.4 360.5,808.2 372.5,796.4 384.5,801.1 397.5,812.7 409.5,843.2 421.5,845.2 433.5,820.2 445.5,790.1 458.5,777.6 470.5,771.4 482.5,772.6 494.5,802.6 506.5,828.9 519.5,842.2 531.5,842.2 543.5,845.2 555.5,852.2 567.5,847.2 580.5,827.2 592.5,823.9 604.5,806.4 616.5,797.6 628.5,792.1 641.5,797.1 653.5,779.1 665.5,781.4 677.5,781.4 689.5,780.1 702.5,785.1 714.5,798.4 726.5,805.1 738.5,807.7 750.5,820.2 763.5,821.4 775.5,823.2 787.5,829.4 799.5,833.2 811.5,832.2 824.5,834.4 836.5,836.4 848.5,833.2 860.5,834.2 873.5,827.7 885.5,831.4 897.5,826.4 909.5,821.4 921.5,812.7 934.5,821.4 946.5,819.4 958.5,829.4 970.5,835.2 982.5,790.1 995.5,773.9 1007.5,777.6 1019.5,768.4 1031.5,772.6 1043.5,812.7 1056.5,831.4 1068.5,831.4 1080.5,834.4 1092.5,832.2 1104.5,841.4 1117.5,845.2 1129.5,849.0 1141.5,853.2 1153.5,853.2 1165.5,847.2 1178.5,845.4 1190.5,847.2 1202.5,846.4 1214.5,847.7 1226.5,854.0 1239.5,852.7 1251.5,851.5 1263.5,851.5 1275.5,855.2 1287.5,856.5 1300.5,861.5 1312.5,864.0 1324.5,868.2 1336.5,867.2 1348.5,867.2 1361.5,866.0 1373.5,866.0 1385.5,867.2 1397.5,864.7 1409.5,866.0 1422.5,866.0 1434.5,864.0 1446.5,862.2 1458.5,860.7 1470.5,858.2 1483.5,854.5 1495.5,855.2 1507.5,855.2 1519.5,856.5 1531.5,855.7 1544.5,856.5 1556.5,855.2 1568.5,852.7 1580.5,857.7" fill="none" stroke="#ffff00" stroke-width="1" shape-rendering="crispEdges"/>
<polyline points="6.5,865.2 18.5,857.2 30.5,855.7 43.5,856.5 55.5,858.2 67.5,860.2 79.5,857.7 91.5,853.7 104.5,850.5 116.5,846.7 128.5,842.7 140.5,847.4 153.5,843.2 165.5,837.7 177.5,834.7 189.5,831.7 201.5,831.7 214.5,833.9 226.5,837.2 238.5,837.7 250.5,839.7 262.5,838.7 275.5,840.4 287.5,844.4 299.5,848.2 311.5,850.5 323.5,846.7 336.5,842.7 348.5,828.7 360.5,828.2 372.5,823.4 384.5,824.2 397.5,825.2 409.5,827.7 421.5,826.4 433.5,808.9 445.5,796.6 458.5,796.6 470.5,807.2 482.5,809.7 494.5,811.4 506.5,810.2 519.5,810.2 531.5,807.2 543.5,808.4 555.5,826.4 567.5,838.2 580.5,834.7 592.5,833.2 604.5,827.7 616.5,824.7 628.5,819.2 641.5,812.7 653.5,802.6 665.5,794.6 677.5,790.6 689.5,786.6 702.5,791.4 714.5,788.4 726.5,793.1 738.5,794.4 750.5,800.1 763.5,803.4 775.5,811.4 787.5,817.2 799.5,820.2 811.5,825.9 824.5,827.7 836.5,829.4 848.5,831.4 860.5,833.2 873.5,830.2 885.5,832.7 897.5,831.4 909.5,827.7 921.5,823.4 934.5,824.4 946.5,825.2 958.5,828.2 970.5,828.2 982.5,802.6 995.5,797.6 1007.5,798.4 1019.5,800.1 1031.5,803.4 1043.5,802.1 1056.5,802.6 1068.5,804.1 1080.5,801.4 1092.5,802.6 1104.5,827.7 1117.5,838.2 1129.5,840.7 1141.5,843.2 1153.5,842.7 1165.5,843.9 1178.5,845.2 1190.5,847.7 1202.5,849.5 1214.5,850.2 1226.5,852.2 1239.5,850.2 1251.5,849.7 1263.5,849.7 1275.5,851.5 1287.5,854.0 1300.5,857.2 1312.5,857.7 1324.5,859.7 1336.5,861.5 1348.5,861.5 1361.5,864.5 1373.5,865.2 1385.5,866.5 1397.5,866.0 1409.5,866.5 1422.5,866.0 1434.5,865.2 1446.5,864.5 1458.5,863.5 1470.5,862.7 1483.5,860.2 1495.5,860.2 1507.5,859.0 1519.5,859.5 1531.5,856.5 1544.5,856.0 1556.5,855.2 1568.5,853.5 1580.5,857.7" fill="none" stroke="#ff00ff" stroke-width="1" shape-rendering="crispEdges"/>
<path d="M1019 56 L1007.5 51.8 M1007.5 51.8 L1011.4 50.2 M1007.5 51.8 L1009.8 56" stroke="#d8d8d8" fill="none" stroke-width="1"/>
<text x="1021" y="61" font-family="Liberation Sans, Noto Sans CJK SC, sans-serif" font-size="12.4" fill="#d8d8d8">63.88</text>
<path d="M567.5 458.5 L579 458.5 M567.5 458.5 L570.5 455.5 M567.5 458.5 L570.5 461.5" stroke="#d8d8d8" fill="none" stroke-width="1"/>
<text x="580" y="463" font-family="Liberation Sans, Noto Sans CJK SC, sans-serif" font-size="12.4" fill="#d8d8d8">50.50</text>
<defs><radialGradient id="rb" cx="0.42" cy="0.36" r="0.75"><stop offset="0" stop-color="#f87878"/><stop offset="0.5" stop-color="#e63636"/><stop offset="1" stop-color="#c41c1c"/></radialGradient></defs>
<g transform="translate(982 184.9)"><circle r="6.9" fill="url(#rb)"/><path d="M-4.8 0.2 Q0 -3.6 5.9 -3.4 Q1.5 -1.8 -2.6 1.6 Q-3.6 0.4 -4.8 0.2 Z" fill="#ffffff" opacity="0.85"/><path d="M-3 3.4 Q1 -0.2 5.6 0.2 Q2 1.4 -1.2 4.6 Q-2 3.8 -3 3.4 Z" fill="#ffffff" opacity="0.7"/></g>
<g transform="translate(336 447.5)"><circle r="6.9" fill="url(#rb)"/><path d="M-4.8 0.2 Q0 -3.6 5.9 -3.4 Q1.5 -1.8 -2.6 1.6 Q-3.6 0.4 -4.8 0.2 Z" fill="#ffffff" opacity="0.85"/><path d="M-3 3.4 Q1 -0.2 5.6 0.2 Q2 1.4 -1.2 4.6 Q-2 3.8 -3 3.4 Z" fill="#ffffff" opacity="0.7"/></g>
<text x="982" y="200.5" font-family="Liberation Sans, Noto Sans CJK SC, sans-serif" font-size="12" fill="#ffff00">大阳过平台</text>
<text x="336" y="460.7" font-family="Liberation Sans, Noto Sans CJK SC, sans-serif" font-size="12" fill="#ffff00">大阳过平台</text>
<circle cx="982" cy="223" r="6.9" fill="#ffffff"/><path d="M977.2 223 H986.8 M982 218.2 V227.8" stroke="#ff1010" stroke-width="2" fill="none"/>
<text x="982.5" y="255.8" font-family="Liberation Sans, Noto Sans CJK SC, sans-serif" font-size="12" fill="#ff1010">突破左侧高点</text>
<rect x="316" y="559" width="13" height="13" fill="#043a7e"/><text x="316.5" y="570" font-family="Liberation Sans, Noto Sans CJK SC, sans-serif" font-size="12" fill="#ffffff">财</text>
<rect x="793" y="559" width="13" height="13" fill="#007800"/><text x="793.5" y="570" font-family="Liberation Sans, Noto Sans CJK SC, sans-serif" font-size="12" fill="#ffffff">减</text>
<rect x="1050" y="559" width="13" height="13" fill="#b84a0c"/><text x="1050.5" y="570" font-family="Liberation Sans, Noto Sans CJK SC, sans-serif" font-size="12" fill="#ffffff">预</text>
<circle cx="9" cy="582" r="6.1" fill="#727272"/><path d="M5.9 580.8 L9 583.8 L12.1 580.8" fill="none" stroke="#000" stroke-width="1.1"/>
<g font-family="Liberation Sans, Noto Sans CJK SC, sans-serif" font-size="12.4"><text x="19.3" y="586.2" fill="#e0e0e0" textLength="84.2" lengthAdjust="spacingAndGlyphs">VOL-TDX(5,10)</text><text x="109.5" y="586.2" fill="#e0e0e0" textLength="97.5" lengthAdjust="spacingAndGlyphs">VVOL: 202442.30</text><text x="217" y="586.2" fill="#ffff00" textLength="110.7" lengthAdjust="spacingAndGlyphs">VOLUME: 28325.26</text><text x="333.7" y="586.2" fill="#ffff00" textLength="85.1" lengthAdjust="spacingAndGlyphs">MA5: 97023.20</text><text x="424.5" y="586.2" fill="#ff00ff" textLength="92.2" lengthAdjust="spacingAndGlyphs">MA10: 99278.37</text></g>
<path d="M1596.5 33 L1602 38.5 L1596.5 44 L1591 38.5 Z" fill="none" stroke="#8a8a8a" stroke-width="1"/>
<rect x="1609.5" y="33.5" width="11" height="10" rx="2.5" fill="none" stroke="#8a8a8a"/><rect x="1616" y="35.5" width="3" height="6.5" fill="#8a8a8a"/>
<rect x="286" y="911" width="1" height="3" fill="#900000"/>
<rect x="402" y="911" width="1" height="3" fill="#900000"/>
<rect x="469" y="911" width="1" height="3" fill="#900000"/>
<rect x="536" y="911" width="1" height="3" fill="#900000"/>
<rect x="670" y="911" width="1" height="3" fill="#900000"/>
<rect x="737" y="911" width="1" height="3" fill="#900000"/>
<rect x="804" y="911" width="1" height="3" fill="#900000"/>
<rect x="920" y="911" width="1" height="3" fill="#900000"/>
<rect x="969" y="911" width="1" height="3" fill="#900000"/>
<rect x="1018" y="911" width="1" height="3" fill="#900000"/>
<rect x="1128" y="911" width="1" height="3" fill="#900000"/>
<rect x="1189" y="911" width="1" height="3" fill="#900000"/>
<rect x="1250" y="911" width="1" height="3" fill="#900000"/>
<rect x="139" y="911" width="1" height="15" fill="#900000"/>
<text x="140.5" y="923" font-family="Liberation Sans, Noto Sans CJK SC, sans-serif" font-size="12" fill="#cc0000">10</text>
<rect x="335" y="911" width="1" height="15" fill="#900000"/>
<text x="336.5" y="923" font-family="Liberation Sans, Noto Sans CJK SC, sans-serif" font-size="12" fill="#cc0000">11</text>
<rect x="603" y="911" width="1" height="15" fill="#900000"/>
<text x="604.3" y="923" font-family="Liberation Sans, Noto Sans CJK SC, sans-serif" font-size="12" fill="#cc0000">12</text>
<rect x="871" y="911" width="1" height="15" fill="#900000"/>
<text x="872.5" y="923" font-family="Liberation Sans, Noto Sans CJK SC, sans-serif" font-size="12" fill="#cc0000">1</text>
<rect x="1067" y="911" width="1" height="15" fill="#900000"/>
<text x="1068.6" y="923" font-family="Liberation Sans, Noto Sans CJK SC, sans-serif" font-size="12" fill="#cc0000">2</text>
<rect x="1311" y="911" width="1" height="15" fill="#900000"/>
<text x="1312.5" y="923" font-family="Liberation Sans, Noto Sans CJK SC, sans-serif" font-size="12" fill="#cc0000">3</text>
<text x="6.5" y="923" font-family="Liberation Sans, Noto Sans CJK SC, sans-serif" font-size="12" fill="#cc0000">2022年</text>
<rect x="160" y="911" width="85" height="15" fill="#000080"/><rect x="160" y="911" width="1" height="15" fill="#900000"/><rect x="244" y="911" width="1" height="15" fill="#900000"/>
<text x="161.5" y="923.3" font-family="Liberation Sans, Noto Sans CJK SC, sans-serif" font-size="13" fill="#ffffff" textLength="82" lengthAdjust="spacingAndGlyphs">2022/10/12/三</text>
<text x="1637" y="923.3" font-family="Liberation Sans, Noto Sans CJK SC, sans-serif" font-size="12" fill="#f0f0f0">日线</text>
<rect x="2" y="927" width="34" height="2" fill="#2b2b2b"/>
<rect x="38" y="927" width="29" height="2" fill="#2b2b2b"/>
<rect x="70" y="927" width="43" height="2" fill="#2b2b2b"/>
<rect x="115" y="927" width="31" height="2" fill="#2b2b2b"/>
<rect x="148" y="927" width="34" height="2" fill="#2b2b2b"/>
<rect x="184" y="927" width="25" height="2" fill="#2b2b2b"/>
<rect x="211" y="927" width="33" height="2" fill="#2b2b2b"/>
<rect x="247" y="927" width="36" height="2" fill="#2b2b2b"/>
<rect x="286" y="927" width="22" height="2" fill="#2b2b2b"/>
<rect x="311" y="927" width="22" height="2" fill="#2b2b2b"/>
<rect x="335" y="927" width="32" height="2" fill="#2b2b2b"/>
<rect x="369" y="927" width="24" height="2" fill="#2b2b2b"/>
<rect x="395" y="927" width="33" height="2" fill="#2b2b2b"/>
<rect x="430" y="927" width="28" height="2" fill="#2b2b2b"/>
<rect x="460" y="927" width="32" height="2" fill="#2b2b2b"/>
<rect x="494" y="927" width="26" height="2" fill="#2b2b2b"/>
<rect x="522" y="927" width="53" height="2" fill="#2b2b2b"/>
<rect x="577" y="927" width="28" height="2" fill="#2b2b2b"/>
<rect x="607" y="927" width="26" height="2" fill="#2b2b2b"/>
<rect x="636" y="927" width="32" height="2" fill="#2b2b2b"/>
<rect x="670" y="927" width="37" height="2" fill="#2b2b2b"/>
<rect x="709" y="927" width="35" height="2" fill="#2b2b2b"/>
<rect x="747" y="927" width="26" height="2" fill="#2b2b2b"/>
<rect x="776" y="927" width="39" height="2" fill="#2b2b2b"/>
<rect x="817" y="927" width="30" height="2" fill="#2b2b2b"/>
<rect x="849" y="927" width="30" height="2" fill="#2b2b2b"/>
<rect x="881" y="927" width="671" height="2" fill="#2b2b2b"/>
<rect x="1554" y="927" width="33" height="2" fill="#2b2b2b"/>
<rect x="1589" y="927" width="34" height="2" fill="#2b2b2b"/>
<rect x="1625" y="927" width="23" height="2" fill="#2b2b2b"/>
<rect x="1651" y="927" width="24" height="2" fill="#2b2b2b"/>
<g font-family="Liberation Sans, Arial, sans-serif" font-size="24" fill="#878787" fill-opacity="0.23"><text x="50.5" y="157.0" transform="rotate(-45 50.5 157.0)" text-anchor="middle" dominant-baseline="central">www.cfchi.com</text><text x="335.3" y="157.0" transform="rotate(-45 335.3 157.0)" text-anchor="middle" dominant-baseline="central">www.cfchi.com</text><text x="620.1" y="157.0" transform="rotate(-45 620.1 157.0)" text-anchor="middle" dominant-baseline="central">www.cfchi.com</text><text x="904.9" y="157.0" transform="rotate(-45 904.9 157.0)" text-anchor="middle" dominant-baseline="central">www.cfchi.com</text><text x="1189.7" y="157.0" transform="rotate(-45 1189.7 157.0)" text-anchor="middle" dominant-baseline="central">www.cfchi.com</text><text x="1474.5" y="157.0" transform="rotate(-45 1474.5 157.0)" text-anchor="middle" dominant-baseline="central">www.cfchi.com</text><text x="1759.3" y="157.0" transform="rotate(-45 1759.3 157.0)" text-anchor="middle" dominant-baseline="central">www.cfchi.com</text><text x="50.5" y="375.9" transform="rotate(-45 50.5 375.9)" text-anchor="middle" dominant-baseline="central">www.cfchi.com</text><text x="335.3" y="375.9" transform="rotate(-45 335.3 375.9)" text-anchor="middle" dominant-baseline="central">www.cfchi.com</text><text x="620.1" y="375.9" transform="rotate(-45 620.1 375.9)" text-anchor="middle" dominant-baseline="central">www.cfchi.com</text><text x="904.9" y="375.9" transform="rotate(-45 904.9 375.9)" text-anchor="middle" dominant-baseline="central">www.cfchi.com</text><text x="1189.7" y="375.9" transform="rotate(-45 1189.7 375.9)" text-anchor="middle" dominant-baseline="central">www.cfchi.com</text><text x="1474.5" y="375.9" transform="rotate(-45 1474.5 375.9)" text-anchor="middle" dominant-baseline="central">www.cfchi.com</text><text x="1759.3" y="375.9" transform="rotate(-45 1759.3 375.9)" text-anchor="middle" dominant-baseline="central">www.cfchi.com</text><text x="50.5" y="594.8" transform="rotate(-45 50.5 594.8)" text-anchor="middle" dominant-baseline="central">www.cfchi.com</text><text x="335.3" y="594.8" transform="rotate(-45 335.3 594.8)" text-anchor="middle" dominant-baseline="central">www.cfchi.com</text><text x="620.1" y="594.8" transform="rotate(-45 620.1 594.8)" text-anchor="middle" dominant-baseline="central">www.cfchi.com</text><text x="904.9" y="594.8" transform="rotate(-45 904.9 594.8)" text-anchor="middle" dominant-baseline="central">www.cfchi.com</text><text x="1189.7" y="594.8" transform="rotate(-45 1189.7 594.8)" text-anchor="middle" dominant-baseline="central">www.cfchi.com</text><text x="1474.5" y="594.8" transform="rotate(-45 1474.5 594.8)" text-anchor="middle" dominant-baseline="central">www.cfchi.com</text><text x="1759.3" y="594.8" transform="rotate(-45 1759.3 594.8)" text-anchor="middle" dominant-baseline="central">www.cfchi.com</text><text x="50.5" y="813.7" transform="rotate(-45 50.5 813.7)" text-anchor="middle" dominant-baseline="central">www.cfchi.com</text><text x="335.3" y="813.7" transform="rotate(-45 335.3 813.7)" text-anchor="middle" dominant-baseline="central">www.cfchi.com</text><text x="620.1" y="813.7" transform="rotate(-45 620.1 813.7)" text-anchor="middle" dominant-baseline="central">www.cfchi.com</text><text x="904.9" y="813.7" transform="rotate(-45 904.9 813.7)" text-anchor="middle" dominant-baseline="central">www.cfchi.com</text><text x="1189.7" y="813.7" transform="rotate(-45 1189.7 813.7)" text-anchor="middle" dominant-baseline="central">www.cfchi.com</text><text x="1474.5" y="813.7" transform="rotate(-45 1474.5 813.7)" text-anchor="middle" dominant-baseline="central">www.cfchi.com</text><text x="1759.3" y="813.7" transform="rotate(-45 1759.3 813.7)" text-anchor="middle" dominant-baseline="central">www.cfchi.com</text></g>
</svg>
<div class="abs lbl" style="left:4px;top:31.5px;color:#e0e0e0">上海机场<span style="margin-left:2px">(日线)</span></div>
<svg class="abs" style="left:91.5px;top:31.6px" width="13" height="13" viewBox="0 0 13 13"><circle cx="6.5" cy="6.5" r="6.1" fill="#727272"/><path d="M3.4 5.3 L6.5 8.3 L9.6 5.3" fill="none" stroke="#000" stroke-width="1.1"/></svg>
<div class="abs lbl" style="left:108px;top:31.5px;color:#e0e0e0">过左锋</div>
</body></html>
